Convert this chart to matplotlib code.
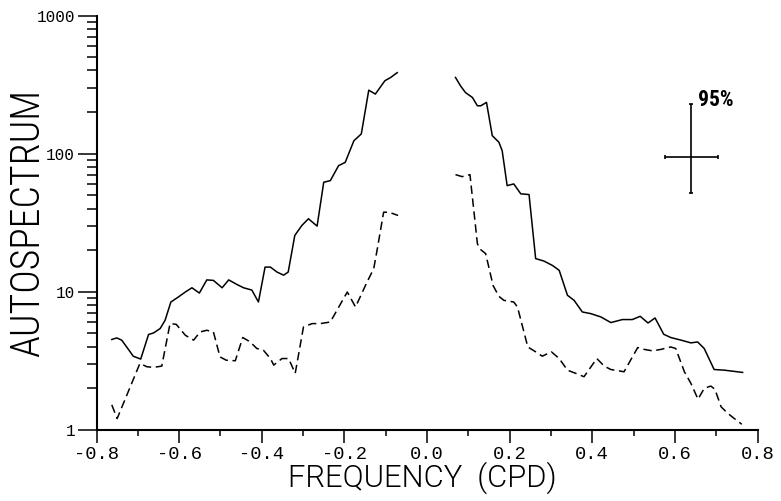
import matplotlib
matplotlib.use("Agg")
import matplotlib.pyplot as plt
from matplotlib import font_manager
from matplotlib.ticker import FixedLocator, LogLocator, NullFormatter

# Frequencies (cycles per day) and autospectrum estimates
solid_left_f = [-0.763, -0.751, -0.739, -0.727, -0.711, -0.693, -0.674, -0.662, -0.646, -0.634,
                -0.620, -0.602, -0.585, -0.569, -0.551, -0.533, -0.517, -0.496, -0.480, -0.460,
                -0.444, -0.424, -0.408, -0.392, -0.379, -0.363, -0.347, -0.336, -0.320, -0.303,
                -0.287, -0.266, -0.250, -0.234, -0.214, -0.198, -0.177, -0.159, -0.141, -0.125,
                -0.102, -0.088, -0.072]
solid_left_s = [4.52, 4.64, 4.47, 3.99, 3.42, 3.26, 4.91, 5.04, 5.42, 6.22,
                8.44, 9.17, 9.97, 10.7, 9.8, 12.2, 12.1, 10.7, 12.2, 11.3,
                10.7, 10.3, 8.44, 15.1, 15.1, 13.9, 13.2, 13.9, 25.6, 30.2,
                33.8, 29.9, 62.1, 63.8, 81.9, 86.5, 124, 139, 288, 270,
                337, 356, 386]

solid_right_f = [0.069, 0.081, 0.093, 0.110, 0.122, 0.130, 0.144, 0.158, 0.174, 0.182,
                 0.194, 0.210, 0.227, 0.247, 0.263, 0.283, 0.304, 0.320, 0.340, 0.356,
                 0.376, 0.396, 0.421, 0.445, 0.473, 0.497, 0.516, 0.535, 0.552, 0.573,
                 0.590, 0.615, 0.639, 0.655, 0.671, 0.695, 0.720, 0.764]
solid_right_s = [356, 310, 277, 255, 222, 222, 235, 135, 121, 105,
                 58.7, 60.4, 51.2, 50.6, 17.4, 16.7, 15.5, 14.3, 9.44, 8.68,
                 7.15, 6.96, 6.58, 5.99, 6.30, 6.30, 6.65, 5.95, 6.47, 4.93,
                 4.67, 4.47, 4.27, 4.34, 3.89, 2.74, 2.71, 2.61]

dashed_left_f = [-0.763, -0.750, -0.695, -0.678, -0.662, -0.642, -0.622, -0.607, -0.585, -0.565,
                 -0.549, -0.533, -0.517, -0.501, -0.486, -0.464, -0.446, -0.428, -0.412, -0.396,
                 -0.379, -0.371, -0.351, -0.335, -0.319, -0.299, -0.278, -0.258, -0.234, -0.193,
                 -0.173, -0.145, -0.129, -0.121, -0.105, -0.092, -0.070]
dashed_left_s = [1.52, 1.21, 3.03, 2.87, 2.84, 2.90, 5.89, 5.82, 4.85, 4.47,
                 5.13, 5.27, 5.13, 3.38, 3.20, 3.17, 4.67, 4.34, 3.89, 3.78,
                 3.29, 2.95, 3.29, 3.29, 2.57, 5.57, 5.89, 5.89, 6.05, 9.97,
                 7.77, 11.8, 14.7, 19.9, 37.7, 37.7, 35.7]

dashed_right_f = [0.069, 0.085, 0.104, 0.122, 0.130, 0.142, 0.160, 0.174, 0.186, 0.210,
                  0.219, 0.244, 0.263, 0.279, 0.301, 0.320, 0.340, 0.360, 0.380, 0.411,
                  0.429, 0.445, 0.477, 0.510, 0.526, 0.546, 0.566, 0.590, 0.602, 0.623,
                  0.639, 0.656, 0.671, 0.687, 0.697, 0.712, 0.728, 0.744, 0.762]
dashed_right_s = [70.5, 68.2, 70.5, 22.3, 20.2, 18.9, 11.1, 9.28, 8.68, 8.44,
                  7.77, 3.99, 3.68, 3.42, 3.68, 3.29, 2.71, 2.57, 2.43, 3.29,
                  2.90, 2.74, 2.64, 3.95, 3.83, 3.74, 3.83, 3.99, 3.89, 2.64,
                  2.17, 1.67, 2.00, 2.08, 1.97, 1.47, 1.32, 1.21, 1.10]

# 95% confidence cross
ci_f, ci_s = 0.64, 95
ci_f_half = 0.064
ci_s_low, ci_s_high = 52, 230
ci_label = "95%"

x_ticks = [-0.8, -0.6, -0.4, -0.2, 0.0, 0.2, 0.4, 0.6, 0.8]
x_tick_labels = ["-0.8", "-0.6", "-0.4", "-0.2", "0.0", "0.2", "0.4", "0.6", "0.8"]
x_minor = [-0.7, -0.5, -0.3, -0.1, 0.1, 0.3, 0.5, 0.7]
y_ticks = [1, 10, 100, 1000]
y_tick_labels = ["1", "10", "100", "1000"]
x_title = "FREQUENCY  (CPD)"
y_title = "AUTOSPECTRUM"


def narrow_font():
    """Pick the narrowest sans face that is installed."""
    fonts = font_manager.fontManager.ttflist
    names = {f.name for f in fonts}
    for name in ("Liberation Sans Narrow", "Roboto Condensed", "Open Sans Condensed",
                 "Noto Sans Condensed", "DejaVu Sans Condensed"):
        if name in names:
            return dict(family=[name, "DejaVu Sans"])
    for name in ("DejaVu Sans", "Noto Sans", "Open Sans", "Roboto"):
        for f in fonts:
            if f.name == name and str(f.stretch) in ("condensed", "semi-condensed", "575", "625", "500"):
                return dict(family=[name, "DejaVu Sans"], fontstretch=f.stretch)
    return dict(family=["Liberation Sans", "DejaVu Sans"])


narrow = narrow_font()
regular = dict(family=["Roboto", "Liberation Sans", "DejaVu Sans"])
mono = ["Liberation Mono", "DejaVu Sans Mono"]

fig = plt.figure(figsize=(7.81, 5.01), dpi=100)
ax = fig.add_axes([96.5 / 781, 71 / 501, 661 / 781, 414.5 / 501])

lw = 1.1
ax.plot(solid_left_f, solid_left_s, color="black", lw=lw)
ax.plot(solid_right_f, solid_right_s, color="black", lw=lw)
ax.plot(dashed_left_f, dashed_left_s, color="black", lw=lw, dashes=(5.5, 3))
ax.plot(dashed_right_f, dashed_right_s, color="black", lw=lw, dashes=(5.5, 3))

ax.errorbar([ci_f], [ci_s], xerr=[[ci_f_half], [ci_f_half]],
            yerr=[[ci_s - ci_s_low], [ci_s_high - ci_s]],
            fmt="none", ecolor="black", elinewidth=1.2, capsize=1.5, capthick=1.2)
ax.text(ci_f + 0.016, ci_s_high * 0.965, ci_label, fontsize=15.5, fontweight="bold",
        ha="left", va="baseline", **narrow)

ax.set_yscale("log")
ax.set_xlim(-0.8, 0.8)
ax.set_ylim(1, 1000)

for side in ("top", "right"):
    ax.spines[side].set_visible(False)
for side in ("left", "bottom"):
    ax.spines[side].set_linewidth(1.5)

ax.xaxis.set_major_locator(FixedLocator(x_ticks))
ax.set_xticklabels(x_tick_labels)
ax.xaxis.set_minor_locator(FixedLocator(x_minor))
ax.yaxis.set_major_locator(FixedLocator(y_ticks))
ax.set_yticklabels(y_tick_labels)
ax.yaxis.set_minor_locator(LogLocator(base=10, subs=range(2, 10)))
ax.yaxis.set_minor_formatter(NullFormatter())

ax.tick_params(axis="x", which="major", direction="out", length=9.5, width=1.1, pad=2,
               labelsize=13.5)
ax.tick_params(axis="x", which="minor", direction="out", length=4.5, width=1.1)
ax.tick_params(axis="y", which="major", direction="out", length=13.5, width=1.1, pad=2,
               labelsize=11.5)
ax.tick_params(axis="y", which="minor", direction="out", length=7.5, width=1.1)
for lab in ax.get_xticklabels() + ax.get_yticklabels():
    lab.set_family(mono)

xt = fig.text(422 / 781, 1 - 487 / 501, x_title, fontsize=22, fontweight=300,
              ha="center", va="baseline", **regular)
yt = fig.text(39 / 781, 1 - 223 / 501, y_title, fontsize=29, fontweight=300,
              rotation=90, rotation_mode="anchor", ha="center", va="baseline", **narrow)

# Fit the axis titles to their drawn lengths
renderer = fig.canvas.get_renderer()
for t, target, horizontal in ((xt, 269, True), (yt, 268, False)):
    ext = t.get_window_extent(renderer)
    span = ext.width if horizontal else ext.height
    t.set_fontsize(t.get_fontsize() * target / span)

fig.savefig("out.png", dpi=100)
